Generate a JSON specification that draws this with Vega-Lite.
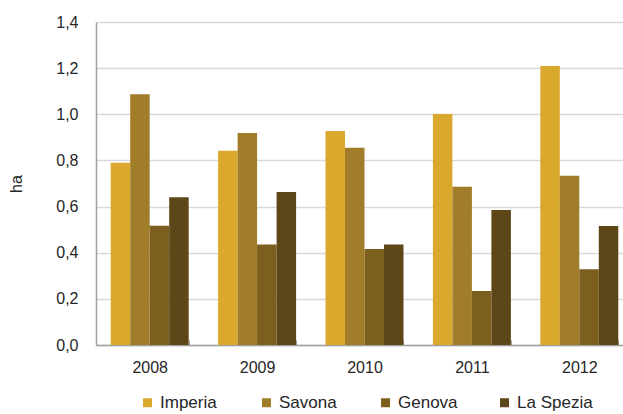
{
  "$schema": "https://vega.github.io/schema/vega-lite/v6.json",
  "width": 527,
  "height": 323,
  "autosize": {"type": "none"},
  "padding": {"left": 96, "top": 22, "right": 0, "bottom": 69},
  "background": "white",
  "config": {
    "font": "Liberation Sans",
    "view": {"stroke": null}
  },
  "data": {
    "values": [
      {"year": "2008", "provincia": "Imperia", "ha": 0.79},
      {"year": "2008", "provincia": "Savona", "ha": 1.087},
      {"year": "2008", "provincia": "Genova", "ha": 0.517},
      {"year": "2008", "provincia": "La Spezia", "ha": 0.64},
      {"year": "2009", "provincia": "Imperia", "ha": 0.842},
      {"year": "2009", "provincia": "Savona", "ha": 0.919},
      {"year": "2009", "provincia": "Genova", "ha": 0.436},
      {"year": "2009", "provincia": "La Spezia", "ha": 0.663},
      {"year": "2010", "provincia": "Imperia", "ha": 0.928},
      {"year": "2010", "provincia": "Savona", "ha": 0.855},
      {"year": "2010", "provincia": "Genova", "ha": 0.416},
      {"year": "2010", "provincia": "La Spezia", "ha": 0.436},
      {"year": "2011", "provincia": "Imperia", "ha": 1.001},
      {"year": "2011", "provincia": "Savona", "ha": 0.686},
      {"year": "2011", "provincia": "Genova", "ha": 0.234},
      {"year": "2011", "provincia": "La Spezia", "ha": 0.585},
      {"year": "2012", "provincia": "Imperia", "ha": 1.209},
      {"year": "2012", "provincia": "Savona", "ha": 0.734},
      {"year": "2012", "provincia": "Genova", "ha": 0.328},
      {"year": "2012", "provincia": "La Spezia", "ha": 0.516}
    ]
  },
  "mark": {"type": "bar"},
  "encoding": {
    "x": {
      "field": "year",
      "type": "nominal",
      "scale": {"range": [0, 537], "paddingInner": 0.274, "paddingOuter": 0.137},
      "axis": {
        "title": null,
        "labelAngle": 0,
        "labelFontSize": 16,
        "labelColor": "#262626",
        "labelPadding": 19,
        "domainColor": "#a0a0a0",
        "domainWidth": 1.5,
        "tickColor": "#a0a0a0",
        "tickSize": -5,
        "tickBand": "extent",
        "grid": false
      }
    },
    "xOffset": {
      "field": "provincia",
      "type": "nominal",
      "sort": ["Imperia", "Savona", "Genova", "La Spezia"],
      "scale": {"paddingInner": 0, "paddingOuter": 0}
    },
    "y": {
      "field": "ha",
      "type": "quantitative",
      "scale": {"domain": [0, 1.4], "nice": false},
      "axis": {
        "title": "ha",
        "titleFontSize": 16,
        "titleFontWeight": "normal",
        "titleColor": "#262626",
        "titlePadding": 31,
        "values": [0, 0.2, 0.4, 0.6, 0.8, 1.0, 1.2, 1.4],
        "labelExpr": "replace(format(datum.value, '.1f'), '.', ',')",
        "labelFontSize": 16,
        "labelColor": "#262626",
        "labelPadding": 18,
        "ticks": false,
        "domainColor": "#a0a0a0",
        "domainWidth": 1.5,
        "gridColor": "#d9d9d9",
        "gridWidth": 1.5
      }
    },
    "color": {
      "field": "provincia",
      "type": "nominal",
      "sort": ["Imperia", "Savona", "Genova", "La Spezia"],
      "scale": {
        "domain": ["Imperia", "Savona", "Genova", "La Spezia"],
        "range": ["#D9A82C", "#A17D29", "#7C5E1E", "#5D4617"]
      },
      "legend": {
        "title": null,
        "orient": "none",
        "direction": "horizontal",
        "columns": 4,
        "gridAlign": "all",
        "legendX": 43,
        "legendY": 372,
        "symbolType": "square",
        "symbolSize": 81,
        "symbolStrokeWidth": 0,
        "labelFontSize": 17,
        "labelColor": "#262626",
        "labelOffset": 4,
        "columnPadding": 22
      }
    }
  }
}
